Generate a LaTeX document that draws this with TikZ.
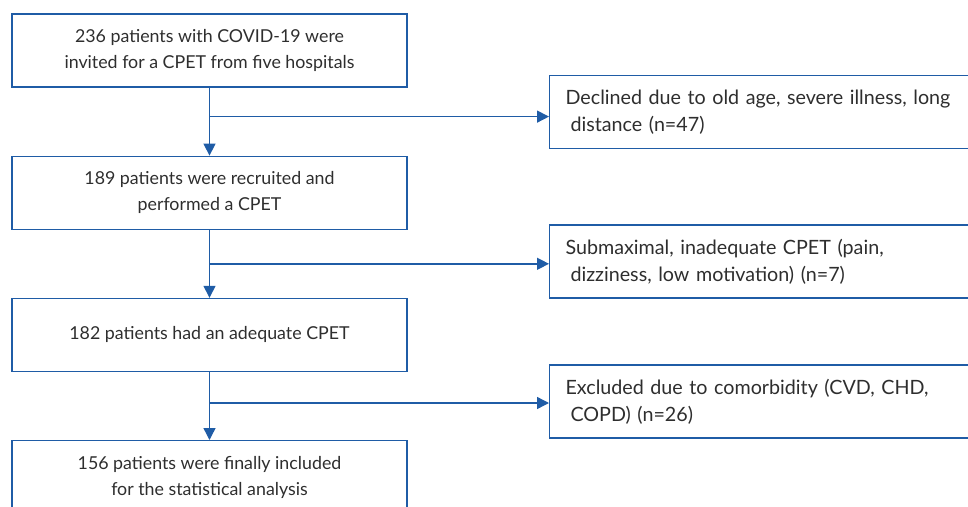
\documentclass[tikz,border=0pt]{standalone}
\usepackage{fontspec}
\setmainfont{Lato}
\usetikzlibrary{arrows.meta}
\usetikzlibrary{calc}
\usetikzlibrary{positioning}
\definecolor{flowblue}{HTML}{1F5CA6}
\definecolor{flowtext}{HTML}{2E2E2E}
\tikzstyle{block} = [rectangle, draw=flowblue, line width=1.2pt, text=flowtext,
    minimum width=395pt, align=center, minimum height=73pt, inner sep=0pt,
    font=\fontsize{17.8}{26}\selectfont]
\tikzstyle{sblock} = [rectangle, draw=flowblue, line width=1.2pt, text=flowtext,
    text width=400pt, align=left, minimum height=73pt, inner xsep=16pt, inner ysep=0pt,
    font=\fontsize{19.7}{27}\selectfont]
\tikzstyle{line} = [draw=flowblue, line width=1.4pt, -{Triangle[length=12pt, width=12pt]}]

\begin{document}
\begin{tikzpicture}[x=1pt, y=-1pt, node distance = 68pt]
	\useasboundingbox (0,0) rectangle (968,506);
	\node [block] (invited) at (209.5,50.5) {236 patients with COVID-19 were\\invited for a CPET from five hospitals};
	\node [block, below=of invited] (recruit) {189 patients were recruited and\\performed a CPET};
	\node [block, below=of recruit] (adequate) {182 patients had an adequate CPET};
	\node [block, below=of adequate] (incl) {156 patients were finally included\\for the statistical analysis};
	
	\node [sblock, anchor=west] (declined) at (549,112) {Declined due to old age, severe illness, long\\\hspace*{0.25em}distance (n=47)};
	\node [sblock, anchor=west] (submax) at (549,261.5) {Submaximal, inadequate CPET (pain,\\\hspace*{0.25em}dizziness, low motivation) (n=7)};
	\node [sblock, anchor=west] (excl) at (549,401.5) {Excluded due to comorbidity (CVD, CHD,\\\hspace*{0.25em}COPD) (n=26)};
	
	\coordinate (b1) at ($(invited.south)+(0,29)$);
	\coordinate (b2) at ($(recruit.south)+(0,34)$);
	\coordinate (b3) at ($(adequate.south)+(0,31)$);
	
	\path [line] (invited) -- (recruit);
	\path [line] (recruit) -- (adequate);
	\path [line] (adequate) -- (incl);
	\path [line] (b1) -- (b1 -| declined.west);
	\path [line] (b2) -- (b2 -| submax.west);
	\path [line] (b3) -- (b3 -| excl.west);
\end{tikzpicture}
\end{document}
